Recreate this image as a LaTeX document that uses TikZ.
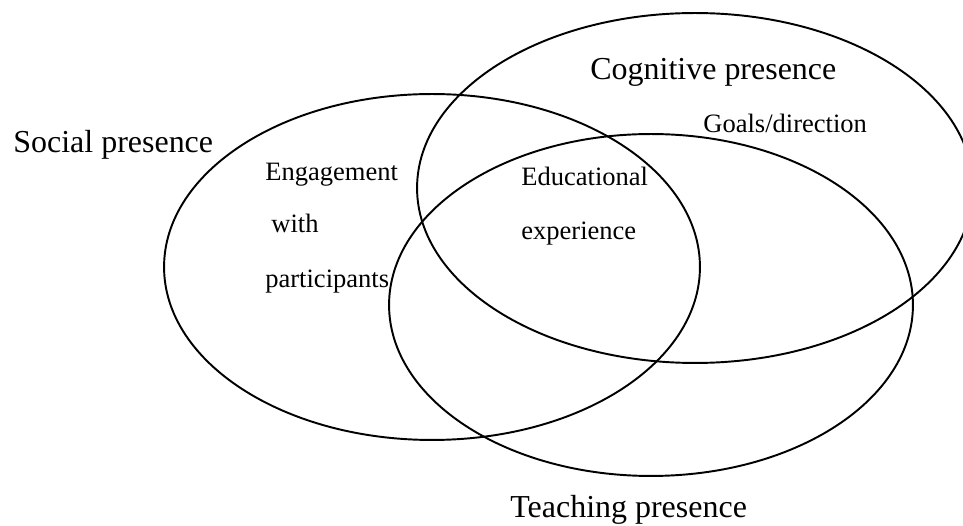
\documentclass[tikz,border=0pt]{standalone}
\usepackage{fontspec}
\setmainfont{Liberation Serif}
\usetikzlibrary{positioning}
\def\lw{1.1pt}
\def\ringcol{black}
\tikzset{
	ring/.style={line width=\lw,draw=\ringcol},
	bigtext/.style={inner sep=0pt,anchor=base west,font=\fontsize{18.2}{22}\selectfont},
	smalltext/.style={inner sep=0pt,anchor=base west,font=\fontsize{15.1}{18}\selectfont}
}
\begin{document}
\begin{tikzpicture}[x=0.02cm,y=-0.02cm]
\useasboundingbox (0,0) rectangle (963,526);
\begin{scope}
\clip (0,0) rectangle (963,526);
% social, cognitive, teaching
\draw[ring] (432,267) ellipse [x radius=5.36cm, y radius=3.46cm];
\draw[ring] (695,188) ellipse [x radius=5.56cm, y radius=3.5cm];
\draw[ring] (651,305) ellipse [x radius=5.24cm, y radius=3.42cm];
\end{scope}
% presence labels
\node[bigtext] (social) at (13,153) {Social presence};
\node[bigtext] (cognitive) at (590,80) {Cognitive presence};
\node[bigtext] (teaching) at (510,517) {Teaching presence};
% inner labels
\node[smalltext] (goals) at (703,133) {Goals/direction};
\node[smalltext] (engage) at (265,181) {Engagement};
\node[smalltext] (with) at (271,233) {with};
\node[smalltext] (partic) at (265,288) {participants};
\node[smalltext] (educ) at (521,186) {Educational};
\node[smalltext] (exper) at (521,240) {experience};
\end{tikzpicture}
\end{document}
